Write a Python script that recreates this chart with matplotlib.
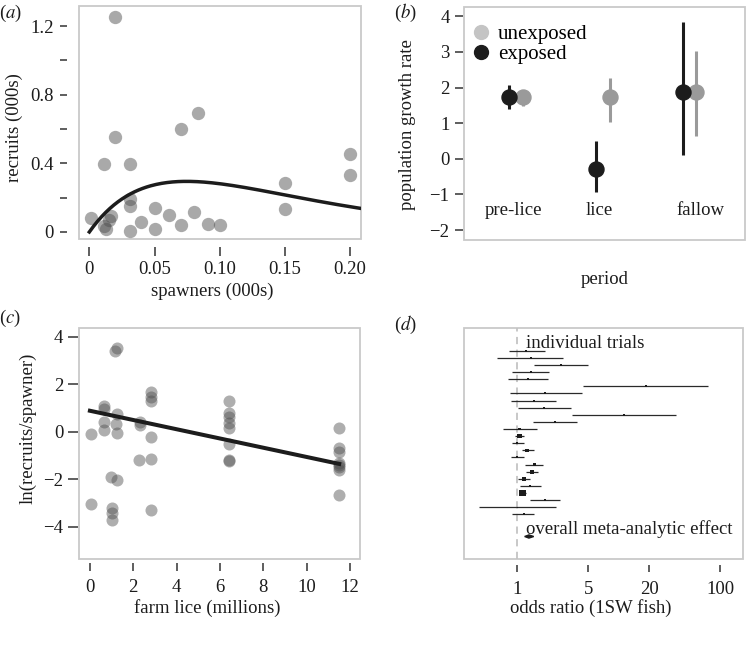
import numpy as np
import matplotlib
matplotlib.use("Agg")
import matplotlib.pyplot as plt
from matplotlib.lines import Line2D
from matplotlib.patches import Rectangle
from matplotlib.ticker import NullLocator

plt.rcParams["font.family"] = ["Liberation Serif", "DejaVu Serif"]
plt.rcParams["mathtext.fontset"] = "stix"
plt.rcParams["font.size"] = 13.5

# ---------------------------------------------------------------- data
# (a) stock-recruit
spawners = [0.020, 0.001, 0.011, 0.020, 0.031, 0.031, 0.031, 0.031, 0.011, 0.017,
            0.015, 0.013, 0.040, 0.050, 0.050, 0.061, 0.070, 0.070, 0.083, 0.080,
            0.091, 0.100, 0.150, 0.150, 0.200, 0.200]
recruits = [1.25, 0.081, 0.396, 0.556, 0.397, 0.194, 0.153, 0.006, 0.033, 0.095,
            0.072, 0.017, 0.056, 0.140, 0.017, 0.101, 0.039, 0.601, 0.692, 0.116,
            0.048, 0.039, 0.285, 0.134, 0.456, 0.333]
ricker_a, ricker_b = 10.74, 13.4          # fitted Ricker curve R = a S exp(-b S)

# (b) growth rate by period
periods = ["pre-lice", "lice", "fallow"]
exp_mean = [1.73, -0.28, 1.87]
exp_lo = [1.39, -0.92, 0.11]
exp_hi = [2.08, 0.50, 3.83]
unexp_mean = [1.73, 1.73, 1.87]
unexp_lo = [1.49, 1.02, 0.63]
unexp_hi = [1.94, 2.28, 3.02]

# (c) survival vs farm lice
lice = [0.05, 0.05, 0.65, 0.65, 0.65, 0.65, 1.01, 1.01, 1.01, 0.99,
        1.15, 1.23, 1.26, 1.20, 1.26, 1.26, 2.31, 2.31, 2.28,
        2.80, 2.80, 2.80, 2.80, 2.80, 2.80,
        6.43, 6.43, 6.43, 6.43, 6.43, 6.43, 6.43, 6.43,
        11.5, 11.5, 11.5, 11.5, 11.5, 11.5, 11.5, 11.5]
ln_rs = [-0.08, -3.06, 1.08, 0.94, 0.42, 0.07, -3.23, -3.44, -3.72, -1.90,
         3.41, 3.51, 0.74, 0.31, -0.05, -2.03, 0.42, 0.30, -1.19,
         1.68, 1.47, 1.31, -0.24, -1.16, -3.30,
         1.31, 0.80, 0.63, 0.38, 0.14, -0.52, -1.19, -1.22,
         0.14, -0.70, -0.84, -1.33, -1.40, -1.47, -1.61, -2.67]
fit_x = [0.0, 11.5]
fit_y = [0.88, -1.36]

# (d) forest plot of odds ratios
or_est = [1.23, 1.35, 2.68, 1.35, 1.27, 18.5, 1.89, 1.45, 1.84, 11.3, 2.34, 1.05,
          1.05, 1.00, 1.25, 1.00, 1.46, 1.39, 1.16, 1.32, 1.12, 1.86, 1.00, 1.16]
or_lo = [0.83, 0.63, 1.45, 0.89, 0.81, 4.46, 0.85, 0.87, 1.02, 3.47, 1.43, 0.72,
         0.95, 0.89, 1.10, 0.87, 1.19, 1.23, 1.02, 1.05, 1.05, 1.32, 0.42, 0.89]
or_hi = [1.86, 2.83, 5.00, 2.04, 2.01, 75.7, 4.30, 2.39, 3.35, 36.3, 3.89, 1.56,
         1.17, 1.15, 1.45, 1.17, 1.79, 1.59, 1.32, 1.70, 1.21, 2.62, 2.39, 1.46]
or_weight = [2, 2, 2, 2, 2, 2, 2, 2, 2, 2, 2, 2.5,
             4.5, 2, 3.5, 2, 3, 4, 3.5, 2, 6.5, 2, 1.5, 2]
overall_est, overall_lo, overall_hi = 1.30, 1.18, 1.45

# ---------------------------------------------------------------- styling
INK = "#1c1c1c"
BOX = "#c9c9c9"
PT = "#4d4d4d"
W, H = 746, 647
fig = plt.figure(figsize=(W / 100, H / 100), dpi=100)


def panel(l, t, r, b):
    ax = fig.add_axes([l / W, 1 - b / H, (r - l) / W, (b - t) / H])
    for s in ax.spines.values():
        s.set_color("none")
    ax.add_patch(Rectangle((0, 0), 1, 1, transform=ax.transAxes, fill=False,
                           ec=BOX, lw=1.3, clip_on=False, zorder=0))
    ax.tick_params(top=False, right=False, color="#333333", labelcolor=INK, width=1.1)
    return ax


def ftext(x, y, s, **kw):
    fig.text(x / W, 1 - y / H, s, ha=kw.pop("ha", "center"), va=kw.pop("va", "center"),
             color=INK, **kw)


# ---------------------------------------------------------------- (a)
ax = panel(79.3, 6, 361, 239)
ax.scatter(spawners, recruits, s=92, color=PT, alpha=0.48, linewidths=0, zorder=2)
S = np.linspace(0, 0.2084, 200)
ax.plot(S, ricker_a * S * np.exp(-ricker_b * S), color=INK, lw=2.5, zorder=3)
ax.set_xlim(-0.0077, 0.2084)
ax.set_ylim(-0.041, 1.317)
ax.spines["left"].set_position(("outward", 9))
ax.spines["bottom"].set_position(("outward", 6))
ax.set_xticks([0, 0.05, 0.10, 0.15, 0.20], ["0", "0.05", "0.10", "0.15", "0.20"])
ax.set_yticks([0, 0.2, 0.4, 0.6, 0.8, 1.0, 1.2], ["0", "", "0.4", "", "0.8", "", "1.2"])
ax.tick_params(axis="y", length=5, pad=4.5)
ax.tick_params(axis="x", length=6.5, pad=3.5)
ftext(14, 128, "recruits (000s)", rotation=90)
ftext(212, 291, "spawners (000s)")
ftext(11, 13, r"($\mathit{a}$)")

# ---------------------------------------------------------------- (b)
ax = panel(464, 7, 745, 240)
xc = np.arange(1, len(periods) + 1)
off = 0.08
ax.vlines(xc + off, unexp_lo, unexp_hi, color="#9a9a9a", lw=2.2, zorder=2)
ax.plot(xc + off, unexp_mean, "o", color="#9a9a9a", ms=10.8, zorder=3)
ax.vlines(xc - off, exp_lo, exp_hi, color=INK, lw=2.2, zorder=4)
ax.plot(xc - off, exp_mean, "o", color=INK, ms=10.8, zorder=5)
for x, name, dx in zip(xc, periods, [-0.03, -0.04, 0.13]):
    ax.text(x + dx, -1.45, name, ha="center", va="center", color=INK)
ax.set_xlim(0.40, 3.64)
ax.set_ylim(-2.28, 4.26)
ax.set_xticks([])
ax.set_yticks(range(-2, 5))
ax.spines["left"].set_position(("outward", 1))
ax.tick_params(axis="y", length=6, pad=3.4)
handles = [Line2D([], [], marker="o", ls="none", color="#c4c4c4", ms=10),
           Line2D([], [], marker="o", ls="none", color=INK, ms=10)]
ax.legend(handles, ["unexposed", "exposed"], loc="upper left",
          bbox_to_anchor=(0.013, 0.950), prop={"size": 15}, frameon=False,
          borderaxespad=0, borderpad=0.3, handlelength=0.7, handletextpad=0.45,
          labelspacing=0.0)
ftext(408, 125, "population growth rate", rotation=90)
ftext(605, 279, "period")
ftext(405, 13, r"($\mathit{b}$)")

# ---------------------------------------------------------------- (c)
ax = panel(79.3, 327.7, 360, 559.3)
ax.scatter(lice, ln_rs, s=75, color=PT, alpha=0.45, linewidths=0, zorder=2)
ax.plot(fit_x, fit_y, color=INK, lw=2.9, zorder=3)
ax.set_xlim(-0.49, 12.46)
ax.set_ylim(-5.38, 4.38)
ax.set_xticks(range(0, 13, 2))
ax.set_yticks(range(-4, 5, 2))
ax.spines["left"].set_position(("outward", 1))
ax.spines["bottom"].set_position(("outward", 3))
ax.tick_params(axis="y", length=7, pad=3.6)
ax.tick_params(axis="x", length=5.8, pad=5.5)
ftext(28, 428, "ln(recruits/spawner)", rotation=90)
ftext(207, 608, "farm lice (millions)")
ftext(10, 318, r"($\mathit{c}$)")

# ---------------------------------------------------------------- (d)
ax = panel(464, 327.7, 743, 559)
rows = np.arange(1, len(or_est) + 1)
ax.axvline(1, color="#c4c4c4", ls=(0, (4, 3)), lw=1.3, zorder=0)
ax.hlines(rows, or_lo, or_hi, color="#2a2a2a", lw=0.9, zorder=2)
ax.scatter(or_est, rows, marker="s", s=(np.array(or_weight) * 0.72) ** 2,
           color=INK, linewidths=0, zorder=3)
yo = 27.1
ax.fill([overall_lo, overall_est, overall_hi, overall_est],
        [yo, yo - 0.22, yo, yo + 0.22], color=INK, zorder=3)
ax.text(1.23, 0, "individual trials", ha="left", va="center", color=INK)
ax.text(1.23, 26.1, "overall meta-analytic effect", ha="left", va="center", color=INK)
ax.set_xscale("log")
ax.set_xlim(0.298, 167.4)
ax.set_ylim(30.26, -2.23)
ax.set_xticks([1, 5, 20, 100], ["1", "5", "20", "100"])
ax.xaxis.set_minor_locator(NullLocator())
ax.set_yticks([])
ax.spines["bottom"].set_position(("outward", 4.3))
ax.tick_params(axis="x", length=5, pad=6.5)
ftext(591, 608, "odds ratio (1SW fish)")
ftext(405, 325, r"($\mathit{d}$)")

fig.savefig("out.png", dpi=100)
